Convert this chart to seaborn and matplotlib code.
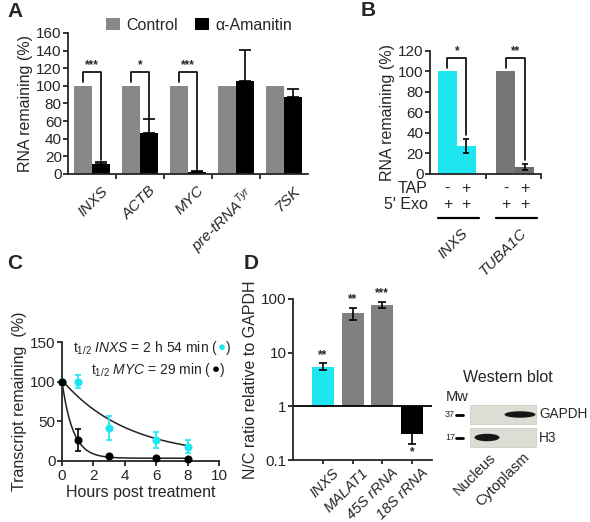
import numpy as np
import pandas as pd
import matplotlib
matplotlib.use("Agg")
import matplotlib.pyplot as plt
import matplotlib.transforms as mtrans
from matplotlib.patches import Rectangle, Ellipse
import seaborn as sns

# ---------------- data ----------------
# panel A
a_genes = ["INXS", "ACTB", "MYC", "pre-tRNA$^{\\mathit{Tyr}}$", "7SK"]
a_treatments = ["Control", "α-Amanitin"]
a_control = [100, 100, 100, 100, 100]
a_amanitin = [11, 47, 2, 105, 87]
a_amanitin_err = [3, 15, 1, 36, 10]
a_stars = ["***", "*", "***", "", ""]

# panel B
b_genes = ["INXS", "TUBA1C"]
b_tap = ["-", "+"]
b_exo = ["+", "+"]
b_values = [[100, 27], [100, 7]]   # [gene][tap]
b_err = [[0, 7], [0, 3]]
b_stars = ["*", "**"]

# panel C
c_hours = [0, 1, 3, 6, 8]
c_inxs = [100, 100, 42, 27, 18]
c_inxs_err = [0, 8, 15, 10, 8]
c_myc = [100, 26, 6, 4, 3]
c_myc_err = [0, 14, 2, 1, 1]
c_half_life = [174 / 60, 29 / 60]   # hours, INXS / MYC (from the labels)
c_fit_start = [102, 100]
c_fit_plateau = [5, 3.5]

# panel D
d_genes = ["INXS", "MALAT1", "45S rRNA", "18S rRNA"]
d_ratio = [5.3, 54, 78, 0.30]
d_low = [4.7, 40, 67, 0.20]
d_high = [6.3, 69, 88, 0.62]
d_stars = ["**", "**", "***", "*"]

# ---------------- style ----------------
CYAN = "#1de6f0"
sns.set_theme(style="ticks")
plt.rcParams["font.family"] = ["Liberation Sans", "DejaVu Sans"]
plt.rcParams["mathtext.fontset"] = "custom"
plt.rcParams["mathtext.rm"] = "Liberation Sans"
plt.rcParams["mathtext.it"] = "Liberation Sans:italic"
plt.rcParams["mathtext.bf"] = "Liberation Sans:bold"
plt.rcParams["axes.linewidth"] = 1.3
plt.rcParams["xtick.major.width"] = 1.3
plt.rcParams["ytick.major.width"] = 1.3
plt.rcParams["xtick.minor.width"] = 1.3
plt.rcParams["xtick.major.size"] = 3.5
plt.rcParams["ytick.major.size"] = 3.5
plt.rcParams["xtick.minor.size"] = 3.5
plt.rcParams["xtick.major.pad"] = 2
plt.rcParams["ytick.major.pad"] = 1
TICK_FS = 11
LAB_FS = 11.5

W, H = 590, 522
fig = plt.figure(figsize=(W / 100, H / 100), dpi=100)


def px_axes(left, top, right, bottom):
    return fig.add_axes([left / W, 1 - bottom / H, (right - left) / W, (bottom - top) / H])


def bar_centers(container):
    return [p.get_x() + p.get_width() / 2 for p in container.patches]


def shift(dx, dy):
    return mtrans.ScaledTranslation(dx / 100, dy / 100, fig.dpi_scale_trans)


# ---------------- panel A ----------------
axA = px_axes(68, 33, 308, 174)
dfA = pd.DataFrame({
    "gene": a_genes * 2,
    "treatment": [a_treatments[0]] * 5 + [a_treatments[1]] * 5,
    "value": a_control + a_amanitin,
})
sns.barplot(data=dfA, x="gene", y="value", hue="treatment", palette=["#888888", "black"],
            width=0.75, saturation=1, errorbar=None, linewidth=0, ax=axA)
ctrl_x = bar_centers(axA.containers[0])
ama_x = bar_centers(axA.containers[1])
axA.errorbar(ama_x, a_amanitin, yerr=[np.zeros(5), a_amanitin_err], fmt="none",
             ecolor="black", elinewidth=1.2, capsize=4, capthick=1.2)
for i, star in enumerate(a_stars):
    if not star:
        continue
    low = a_amanitin[i] + a_amanitin_err[i] + 2
    axA.plot([ctrl_x[i], ctrl_x[i], ama_x[i], ama_x[i]], [104, 116, 116, low],
             color="black", lw=1.2)
    axA.text((ctrl_x[i] + ama_x[i]) / 2, 117, star, ha="center", va="bottom",
             fontsize=8.5, fontweight="bold")
axA.set_ylim(0, 160)
axA.set_yticks(range(0, 161, 20))
axA.set_xlim(-0.5, 4.5)
axA.set_xlabel("")
axA.set_ylabel("RNA remaining (%)", fontsize=LAB_FS, labelpad=2)
axA.tick_params(axis="y", labelsize=TICK_FS)
axA.tick_params(axis="x", which="major", length=0, pad=7)
axA.set_xticks([0.5, 1.5, 2.5, 3.5], minor=True)
axA.set_xticks(range(5))
axA.set_xticklabels(a_genes, rotation=45, ha="right", rotation_mode="anchor",
                    fontsize=TICK_FS, fontstyle="italic")
for lab in axA.get_xticklabels():
    lab.set_transform(lab.get_transform() + shift(9, 0))
sns.despine(ax=axA)
handles, labels = axA.get_legend_handles_labels()
axA.legend(handles, labels, ncol=2, frameon=False, loc="center right",
           bbox_to_anchor=(292 / W, 1 - 25 / H), bbox_transform=fig.transFigure,
           fontsize=LAB_FS, handlelength=0.85, handleheight=0.85, handletextpad=0.4,
           columnspacing=1.1, borderpad=0, borderaxespad=0)

# ---------------- panel B ----------------
axB = px_axes(430, 51, 541, 174)
dfB = pd.DataFrame({
    "gene": [g for g in b_genes for _ in b_tap],
    "tap": b_tap * len(b_genes),
    "value": [v for row in b_values for v in row],
})
sns.barplot(data=dfB, x="gene", y="value", hue="tap", width=0.65, saturation=1,
            errorbar=None, linewidth=0, legend=False, ax=axB)
b_colors = [[CYAN, CYAN], ["#777777", "#6c6c6c"]]
for j, cont in enumerate(axB.containers):
    for i, patch in enumerate(cont.patches):
        patch.set_facecolor(b_colors[i][j])
minus_x = bar_centers(axB.containers[0])
plus_x = bar_centers(axB.containers[1])
axB.errorbar(plus_x, [r[1] for r in b_values], yerr=[r[1] for r in b_err], fmt="none",
             ecolor="black", elinewidth=1.2, capsize=2.5, capthick=1.2)
for i, star in enumerate(b_stars):
    low = b_values[i][1] + b_err[i][1] + 4
    axB.plot([minus_x[i], minus_x[i], plus_x[i], plus_x[i]], [103, 113, 113, low],
             color="black", lw=1.2)
    axB.text((minus_x[i] + plus_x[i]) / 2, 114, star, ha="center", va="bottom",
             fontsize=8.5, fontweight="bold")
axB.set_ylim(0, 120)
axB.set_yticks(range(0, 121, 20))
axB.set_xlim(-0.46, 1.44)
axB.set_xlabel("")
axB.set_ylabel("RNA remaining (%)", fontsize=LAB_FS, labelpad=2)
axB.tick_params(axis="y", labelsize=TICK_FS)
axB.set_xticks([])
axB.set_xticks([0.5, 1.44], minor=True)
axB.tick_params(axis="x", which="minor", labelbottom=False)
sns.despine(ax=axB)
blend = mtrans.blended_transform_factory(axB.transData, axB.transAxes)
axB.text(-0.02, -0.12, "TAP", transform=axB.transAxes, ha="right", va="center", fontsize=LAB_FS)
axB.text(-0.02, -0.245, "5' Exo", transform=axB.transAxes, ha="right", va="center", fontsize=LAB_FS)
for i, g in enumerate(b_genes):
    for j, xs in enumerate([minus_x[i], plus_x[i]]):
        axB.text(xs, -0.12, b_tap[j], transform=blend, ha="center", va="center", fontsize=LAB_FS)
        axB.text(xs, -0.245, b_exo[j], transform=blend, ha="center", va="center", fontsize=LAB_FS)
    p0 = axB.containers[0].patches[i]
    p1 = axB.containers[1].patches[i]
    axB.plot([p0.get_x(), p1.get_x() + p1.get_width() + 0.05], [-0.36, -0.36], transform=blend,
             color="black", lw=1.6, clip_on=False)
    gx = (minus_x[i] + plus_x[i]) / 2
    axB.text(gx, -0.46, g, transform=blend + shift(9, 0), rotation=45,
             rotation_mode="anchor", ha="right", va="center", fontsize=TICK_FS, fontstyle="italic")

# ---------------- panel C ----------------
axC = px_axes(62, 342, 219, 461)
t_fit = np.linspace(0, 8, 200)
for k in range(2):
    fit = c_fit_plateau[k] + (c_fit_start[k] - c_fit_plateau[k]) * 0.5 ** (t_fit / c_half_life[k])
    sns.lineplot(x=t_fit, y=fit, color="#222222", lw=1.1, ax=axC)
axC.errorbar(c_hours, c_inxs, yerr=c_inxs_err, fmt="none", ecolor=CYAN, elinewidth=1.2,
             capsize=2.5, capthick=1.2, clip_on=False)
axC.errorbar(c_hours, c_myc, yerr=c_myc_err, fmt="none", ecolor="black", elinewidth=1.2,
             capsize=2.5, capthick=1.2, clip_on=False)
sns.scatterplot(x=c_hours, y=c_inxs, color=CYAN, s=34, linewidth=0, ax=axC, clip_on=False, zorder=4)
sns.scatterplot(x=c_hours, y=c_myc, color="black", s=34, linewidth=0, ax=axC, clip_on=False, zorder=4)
axC.set_xlim(0, 10)
axC.set_ylim(0, 150)
axC.set_xticks(range(0, 11, 2))
axC.set_yticks([0, 50, 100, 150])
axC.tick_params(labelsize=TICK_FS)
axC.set_xlabel("Hours post treatment", fontsize=LAB_FS, labelpad=2)
axC.set_ylabel("Transcript remaining  (%)", fontsize=LAB_FS, labelpad=2)
sns.despine(ax=axC)


def half_life_label(ax, x, y, text, color):
    t1 = ax.text(x, y, text + " (", transform=ax.transAxes, fontsize=10, va="center")
    t2 = ax.annotate("●", xy=(1, 0.5), xycoords=t1, ha="left", va="center",
                     color=color, fontsize=9.5)
    ax.annotate(")", xy=(1, 0.5), xycoords=t2, ha="left", va="center", fontsize=10)


half_life_label(axC, 0.07, 0.95, r"t$_{1/2}$ $\mathit{INXS}$ = 2 h 54 min", CYAN)
half_life_label(axC, 0.185, 0.765, r"t$_{1/2}$ $\mathit{MYC}$ = 29 min", "black")

# ---------------- panel D ----------------
axD = px_axes(293, 299, 432, 460)
d_log = np.log10(d_ratio)
sns.barplot(x=d_genes, y=d_log, hue=d_genes, palette=[CYAN, "#808080", "#808080", "black"],
            width=0.74, saturation=1, errorbar=None, linewidth=0, legend=False, ax=axD)
d_x = [c.patches[0].get_x() + c.patches[0].get_width() / 2 for c in axD.containers]
d_lo = d_log - np.log10(d_low)
d_hi = np.log10(d_high) - d_log
axD.errorbar(d_x, d_log, yerr=[d_lo, d_hi], fmt="none", ecolor="black", elinewidth=1.2,
             capsize=3, capthick=1.2)
for i, star in enumerate(d_stars):
    if d_ratio[i] >= 1:
        axD.annotate(star, xy=(d_x[i], np.log10(d_high[i])), xytext=(0, 2),
                     textcoords="offset points", ha="center", va="bottom",
                     fontsize=8.5, fontweight="bold")
    else:
        axD.annotate(star, xy=(d_x[i], np.log10(d_low[i])), xytext=(0, -2),
                     textcoords="offset points", ha="center", va="top",
                     fontsize=8.5, fontweight="bold")
axD.axhline(0, color="black", lw=1.3)
axD.set_ylim(-1, 2)
axD.set_yticks([-1, 0, 1, 2])
axD.set_yticklabels(["0.1", "1", "10", "100"])
axD.set_xlim(-1.0, 3.67)
axD.tick_params(axis="y", labelsize=TICK_FS)
axD.tick_params(axis="x", labelsize=10.5, length=3, pad=1)
axD.set_xticks(range(4))
axD.set_xticklabels(d_genes, rotation=45, ha="right", rotation_mode="anchor",
                    fontstyle="italic")
for lab in axD.get_xticklabels():
    lab.set_transform(lab.get_transform() + shift(9, 0))
axD.set_ylabel("N/C ratio relative to GAPDH", fontsize=LAB_FS, labelpad=2)
sns.despine(ax=axD)

# ---------------- western blot ----------------
axW = px_axes(430, 360, 590, 522)
axW.set_xlim(430, 590)
axW.set_ylim(522, 360)
axW.axis("off")
axW.text(508, 377, "Western blot", ha="center", va="center", fontsize=LAB_FS)
axW.text(446, 397, "Mw", ha="left", va="center", fontsize=10.5)
for top in (405, 428):
    axW.add_patch(Rectangle((470, top), 66, 19, facecolor="#dcded6", edgecolor="#cfd1c8", lw=0.6))
axW.add_patch(Ellipse((520, 414.5), 31, 6.5, facecolor="#161616", edgecolor="none"))
axW.add_patch(Ellipse((487, 437.5), 25, 7.5, facecolor="#161616", edgecolor="none"))
for y, mw, name in ((414.5, "37", "GAPDH"), (437.5, "17", "H3")):
    axW.text(455, y, mw, ha="right", va="center", fontsize=6.5)
    axW.plot([456, 463], [y, y], color="black", lw=2)
    axW.text(539, y, name, ha="left", va="center", fontsize=9.8)
axW.text(494, 455, "Nucleus", rotation=45, rotation_mode="anchor", ha="right", va="center",
         fontsize=10.5)
axW.text(527, 455, "Cytoplasm", rotation=45, rotation_mode="anchor", ha="right", va="center",
         fontsize=10.5)

# ---------------- panel letters ----------------
for letter, x, y in (("A", 7, 2), ("B", 361, 1), ("C", 7, 254), ("D", 244, 254)):
    fig.text(x / W, 1 - y / H, letter, ha="left", va="top", fontsize=15, fontweight="bold")

fig.savefig("out.png", dpi=100)
